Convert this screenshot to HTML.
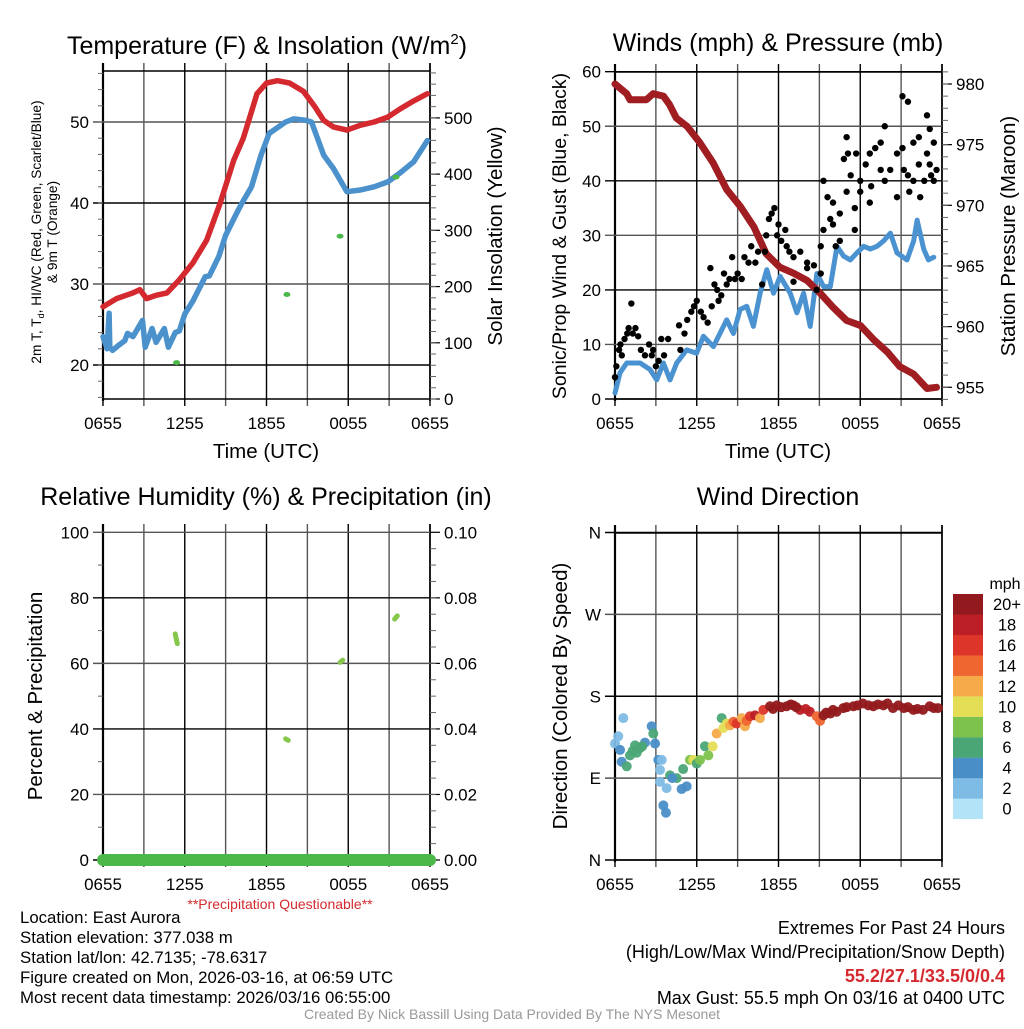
<!DOCTYPE html>
<html><head><meta charset="utf-8"><style>
body{margin:0;background:#fff;width:1024px;height:1024px;overflow:hidden}
svg{font-family:"Liberation Sans",sans-serif}
</style></head><body>
<svg id="c" width="1024" height="1024" viewBox="0 0 1024 1024" xmlns="http://www.w3.org/2000/svg">
<g font-size="25" text-anchor="middle">
<text x="267" y="54">Temperature (F) &amp; Insolation (W/m<tspan font-size="15" dy="-10">2</tspan><tspan dy="10">)</tspan></text>
<text x="778" y="51">Winds (mph) &amp; Pressure (mb)</text>
<text x="266" y="505">Relative Humidity (%) &amp; Precipitation (in)</text>
<text x="778" y="505">Wind Direction</text>
</g>
<g font-size="20.5" text-anchor="middle">
<text x="266" y="458">Time (UTC)</text>
<text x="778" y="458">Time (UTC)</text>
<text transform="translate(502,236) rotate(-90)">Solar Insolation (Yellow)</text>
<text transform="translate(566,236) rotate(-90)" font-size="19.5">Sonic/Prop Wind &amp; Gust (Blue, Black)</text>
<text transform="translate(1015,236) rotate(-90)">Station Pressure (Maroon)</text>
<text transform="translate(42,696) rotate(-90)">Percent &amp; Precipitation</text>
<text transform="translate(567,696) rotate(-90)">Direction (Colored By Speed)</text>
</g>
<g font-size="13.7" text-anchor="middle">
<text transform="translate(41,232) rotate(-90)">2m T, T<tspan font-size="9" dy="3">d</tspan><tspan dy="-3">, HI/WC (Red, Green, Scarlet/Blue)</tspan></text>
<text transform="translate(57,232) rotate(-90)">&amp; 9m T (Orange)</text>
</g>
<text x="280" y="909" font-size="14" fill="#d42a2f" text-anchor="middle">**Precipitation Questionable**</text>
<g font-size="16.8">
<text x="20" y="923">Location: East Aurora</text>
<text x="20" y="943">Station elevation: 377.038 m</text>
<text x="20" y="963">Station lat/lon: 42.7135; -78.6317</text>
<text x="20" y="983">Figure created on Mon, 2026-03-16, at 06:59 UTC</text>
<text x="20" y="1003">Most recent data timestamp: 2026/03/16 06:55:00</text>
</g>
<g font-size="18" text-anchor="end">
<text x="1005" y="934">Extremes For Past 24 Hours</text>
<text x="1005" y="958">(High/Low/Max Wind/Precipitation/Snow Depth)</text>
<text x="1005" y="982" fill="#d42a2f" font-weight="bold">55.2/27.1/33.5/0/0.4</text>
<text x="1005" y="1004">Max Gust: 55.5 mph On 03/16 at 0400 UTC</text>
</g>
<text x="512" y="1019" font-size="14" fill="#999" text-anchor="middle">Created By Nick Bassill Using Data Provided By The NYS Mesonet</text>
<g id="plots"></g>
</svg>
<script>
// ---- Data ----
const timeLabels = ["0655","1255","1855","0055","0655"];
const tempHours = [0,1,2.2,2.7,3.2,3.9,4.7,5.6,6.6,7.6,8.6,9.6,10.3,10.7,11.3,12,12.8,13.7,14.7,15.5,16.2,16.9,17.9,18.9,19.9,20.9,21.8,22.8,23.8];
const tempValues = [27.2,28.2,28.9,29.3,28.2,28.6,28.9,30.5,32.6,35.4,40,45.3,48,50.2,53.5,54.8,55.1,54.8,53.8,52,50.2,49.4,49,49.6,50,50.6,51.6,52.6,53.5];
const dewHours = [0,0.3,0.45,0.5,0.7,1.2,1.6,1.8,2.2,2.9,3.1,3.6,3.9,4.5,4.8,5.3,5.6,6.0,6.6,7.5,7.8,8.5,9.0,9.8,10.2,10.9,11.6,12.2,13.4,14.0,14.9,15.3,16.2,16.9,17.9,18.9,19.9,20.9,21.8,22.8,23.8];
const dewValues = [23.5,22,26.4,22.2,21.8,22.5,23,23.9,23.5,25.5,22.2,24.5,22.8,24.5,22.2,24,24.2,26.3,27.9,30.9,31,33.4,36,38.7,40,42,45.9,48.6,50,50.4,50.2,50,45.9,44.3,41.4,41.6,42,42.6,43.7,45.1,47.7];
const hiwcHours = [5.4,13.5,17.4,21.5];
const hiwcValues = [20.3,28.7,35.9,43.2];
const presHours = [0,0.86,1.1,2.3,2.8,3.55,4,4.5,5.3,6.2,7.2,8.2,9.2,10.2,11.1,12.1,13.1,14.1,15.1,16,17,18,19,20,20.9,21.9,22.9,23.6];
const presValues = [980,979.2,978.7,978.7,979.2,979,978.3,977.2,976.5,975.2,973.5,971.3,969.9,968.2,966,964.9,964.4,963.8,962.7,961.6,960.5,960.1,958.9,957.9,956.7,956.1,954.9,955];
const windHours = [0,0.37,0.86,1.84,2.57,3.06,3.55,4.04,4.53,5.26,5.99,6.49,7.22,8.2,8.69,9.18,9.67,10.16,10.65,11.14,11.63,12.12,12.86,13.35,13.84,14.33,14.82,15.31,15.8,16.29,16.78,17.27,17.76,18.25,18.74,19.23,19.72,20.21,20.7,21.43,21.92,22.17,22.66,23.0,23.4];
const windValues = [1.1,4.8,6.6,6.6,5.4,3.5,6.6,3.5,6.6,9,8.4,11.5,9.6,14.5,12,16.4,17,13.3,19.4,23.7,19.4,22.5,19.4,15.8,19.4,13.3,23,20.6,20.6,28,26.2,25.5,26.8,28,27.5,28,29,30.4,26.8,25.5,29,32.8,27.5,25.5,26];
const gustHours = [0,0.1,0.3,0.4,0.5,0.7,0.9,1.0,1.2,1.3,1.5,1.7,1.9,2.2,2.5,2.7,2.8,3.0,3.2,3.4,3.6,3.9,4.7,4.8,5.1,5.3,5.6,5.8,6.0,6.3,6.5,6.8,7.0,7.1,7.3,7.5,7.6,7.8,8.0,8.2,8.4,8.6,8.8,9.0,9.3,9.5,9.8,10.0,10.3,10.5,10.8,11.0,11.1,11.3,11.5,11.7,11.9,12.0,12.2,12.5,12.6,12.8,13.1,13.1,13.6,14.1,14.1,14.6,14.8,15.1,15.1,15.3,15.3,15.6,15.8,16.0,16.0,16.2,16.5,16.5,16.8,17.0,17.0,17.1,17.3,17.6,17.6,17.7,18.0,18.0,18.4,18.7,18.7,18.8,19.1,19.5,19.5,19.8,19.8,20.2,20.7,20.7,21.1,21.1,21.2,21.5,21.5,21.6,21.9,21.9,22.3,22.3,22.4,22.7,22.9,22.9,23.1,23.1,23.2,23.4,23.4,23.6];
const gustValues = [4,6,9,10,8,11,12,13,17.5,12,13,11.5,9,8,10,8,9,6,7,11,8,11,13.5,9,12,14.5,16,17,18,16,15,14,24,17,21,20,18,19,23,21,22,26,22,23,22,26,25,28,25,27,21,27,30,33,34,35,30,32,29,31,28,27,21.5,26,27,24,25,24.5,20,23,28,40,31,37,33,36,32,28,34,29,44,48,38,45,41,31,35,45,40,38,43,45,36,39,46,47,42,50,40,42,45,37,55.5,46,42,54.5,41,38,47,40,43,48,37,40,52,45,49.5,43,41,47,40,42];
const rhHours = [5.3,5.45,13.4,13.6,17.4,17.6,21.4,21.6];
const rhValues = [69,66,37,36.5,60.3,61,73.5,74.5];
const precipHours = [0,24];
const precipValues = [0,0];
const dirHours = [0,0.24,0.61,0.37,0.49,0.86,1.1,1.47,1.83,2.2,2.69,2.81,2.94,3.18,3.3,3.43,3.3,3.79,3.55,3.74,4.04,4.53,4.89,5.26,5.5,5.75,6,6.24,6.6,6.85,7.17,7.46,7.83,7.95,8.2,8.44,8.69,8.93,9.3,9.54,9.66,9.91,10.28,10.64,10.89,11.38,11.87,12.6,13.09,13.58,14.3,14.8,15.05,15.3,15.8,16.27,16.76,17.5,18.2,18.96,19.7,20.4,21.2,21.9,22.6,23.1,23.7,1.3,1.6,2.0,4.2,5.0,11.6,12.2,12.9,13.3,14.0,15.5,16.0,17.0,17.8,18.6,19.3,20.0,20.8,21.5,22.2,23.4];
const dirValues = [128,136,156,121,108,103,115,126,123,129,147,139,128,110,99,110,86,79,60,52,93,90,78,81,110,110,106,110,125,115,125,139,156,145,150,148,152,150,156,147,153,158,159,156,165,169,170,169,170,165,163,158,153,159,161,163,167,169,172,169,170,167,167,165,165,169,167,120,118,125,90,100,166,168,171,168,166,162,165,168,170,170,171,172,170,168,166,167];
const dirSpeeds = [2,2,2,4,4,6,6,6,6,4,4,6,4,4,2,2,2,2,4,4,6,6,4,4,8,10,6,8,6,8,10,12,6,10,10,12,14,16,12,12,14,16,18,12,16,20,20,20,20,18,18,14,14,20,20,20,20,20,20,20,20,20,20,20,20,20,20,6,6,6,4,6,20,20,20,20,18,20,20,20,20,20,20,20,20,20,20,20];
const speedBins = ["0","2","4","6","8","10","12","14","16","18","20+"];
const speedColors = ["#b3e3f6","#7fbce5","#4a8ec8","#4ba676","#7dc24c","#e4de57","#f6aa4a","#ef6630","#dd3529","#bc1e25","#921a1e"];
const tempTicks = [20,30,40,50];
const solarTicks = [0,100,200,300,400,500];
const windTicks = [0,10,20,30,40,50,60];
const presTicks = [955,960,965,970,975,980];
const rhTicks = [0,20,40,60,80,100];
const precipTicks = ["0.00","0.02","0.04","0.06","0.08","0.10"];
const dirTicks = ["N","E","S","W","N"];

// ---- Drawing ----
const NS="http://www.w3.org/2000/svg";
const root=document.getElementById('plots');
function mk(tag,attrs,parent){const e=document.createElementNS(NS,tag);for(const k in attrs)e.setAttribute(k,attrs[k]);(parent||root).appendChild(e);return e;}
function line(g,x1,y1,x2,y2,col,w){return mk('line',{x1,y1,x2,y2,stroke:col,'stroke-width':w},g);}
function txt(g,x,y,s,anchor,size){const t=mk('text',{x,y,'text-anchor':anchor,'font-size':size},g);t.textContent=s;return t;}

function panel(name,x0,x1,yTop,yBot,hasTop){
  const g=mk('g',{});
  
  
  const X=h=>x0+h*(x1-x0)/24;
  for(let i=0;i<=8;i++){const x=X(i*3);line(g,x,yTop-8,x,yBot+7,i%2?'#555':'#000',1.4);}
  timeLabels.forEach((s,i)=>{const t=txt(g,X(i*6),yBot+30,s,'middle',17);
    
    });
  line(g,x0,yTop-8,x0,yBot+2,'#000',2.2);
  line(g,x1,yTop-8,x1,yBot+2,'#000',1.6);
  line(g,x0,yBot,x1,yBot,'#000',1.6);
  if(hasTop) line(g,x0,yTop,x1,yTop,'#000',1.6);
  return {g,X};
}
function yAxis(g,x0,x1,Y,ticks,labels,minors,side,grid){
  ticks.forEach((v,i)=>{const y=Y(v);
    if(grid) line(g,side<0?x0-10:x0,y,side<0?x1:x1+10,y,i%2?'#555':'#000',1.4);
    else line(g,side<0?x0-10:x1,y,side<0?x0:x1+10,y,'#000',1.2);
    const t=txt(g,side<0?x0-14:x1+14,y+6,labels[i],side<0?'end':'start',17);
    
    });
  minors.forEach(v=>{const y=Y(v);line(g,side<0?x0-5:x1,y,side<0?x0:x1+6,y,'#666',1);});
}
function path(g,X,Y,hs,vs,col,w,name){
  let d='';hs.forEach((h,i)=>{d+=(i?'L':'M')+X(h).toFixed(1)+','+Y(vs[i]).toFixed(1);});
  const p=mk('path',{d,fill:'none',stroke:col,'stroke-width':w,'stroke-linecap':'round','stroke-linejoin':'round'},g);
  
  
  return p;
}
function range(a,b,s){const r=[];for(let v=a;v<=b+1e-9;v+=s)r.push(+v.toFixed(4));return r;}

// Panel 1: temperature
{const P=panel('temperature-panel',103,430,71,399,true);const g=P.g,X=P.X;
 const Y=v=>122+(50-v)*8.1, YS=v=>399-v*0.5622;
 yAxis(g,103,430,Y,tempTicks,tempTicks.map(String),range(16,56,2),-1,true);
 yAxis(g,103,430,YS,solarTicks,solarTicks.map(String),range(0,580,20),1,false);
 path(g,X,Y,dewHours,dewValues,'#4b91cc',5.5,'dewpoint-line');
 path(g,X,Y,tempHours,tempValues,'#d42a2f',5.5,'temperature-line');
 hiwcHours.forEach((h,i)=>{const c=mk('ellipse',{cx:X(h),cy:Y(hiwcValues[i]),rx:3.5,ry:2.5,fill:'#4cb84a'},g);
   
   });
}
// Panel 2: winds & pressure
{const P=panel('winds-panel',615,942,72,399,true);const g=P.g,X=P.X;
 const Y=v=>399-v*5.455, YP=v=>84+(980-v)*12.13;
 yAxis(g,615,942,Y,windTicks,windTicks.map(String),[],-1,true);
 yAxis(g,615,942,YP,presTicks,presTicks.map(String),range(954,981,1),1,false);
 path(g,X,Y,windHours,windValues,'#4b93d0',5,'wind-speed-line');
 path(g,X,YP,presHours,presValues,'#a01e22',7,'pressure-line');
 gustHours.forEach((h,i)=>{const c=mk('circle',{cx:X(h),cy:Y(gustValues[i]),r:3.2,fill:'#000'},g);
   
   });
}
// Panel 3: RH & precip
{const P=panel('humidity-panel',103,430,532,860,false);const g=P.g,X=P.X;
 const Y=v=>860-v*3.277;
 yAxis(g,103,430,Y,rhTicks,rhTicks.map(String),range(10,90,20),-1,true);
 yAxis(g,103,430,Y,rhTicks,precipTicks,range(5,95,5),1,false);
 path(g,X,Y,precipHours,precipValues,'#4cb84a',12,'precipitation-line');
 for(let i=0;i<rhHours.length;i+=2){
   path(g,X,Y,rhHours.slice(i,i+2),rhValues.slice(i,i+2),'#86c74c',5,'humidity-segment');}
}
// Panel 4: wind direction
{const P=panel('wind-direction-panel',615,942,533,860,true);const g=P.g,X=P.X;
 const Y=v=>860-v*0.9097;
 yAxis(g,615,942,Y,[0,90,180,270,360],dirTicks,[],-1,true);
 dirHours.forEach((h,i)=>{const b=Math.min(10,Math.round(dirSpeeds[i]/2));
   const c=mk('circle',{cx:X(h),cy:Y(dirValues[i]),r:5,fill:speedColors[b],'fill-opacity':0.95},g);
   
   });
 const lg=mk('g',{},g);
 
 
 const t=txt(lg,1005,589,'mph','middle',16);
 
 
 speedBins.forEach((s,i)=>{const y=594+(10-i)*20.45;
   const r=mk('rect',{x:953,y:y,width:30,height:20.6,fill:speedColors[i]},lg);
   
   
   const l=txt(lg,1007,y+16,s,'middle',16.5);
   
   });
}
</script>
</body></html>
